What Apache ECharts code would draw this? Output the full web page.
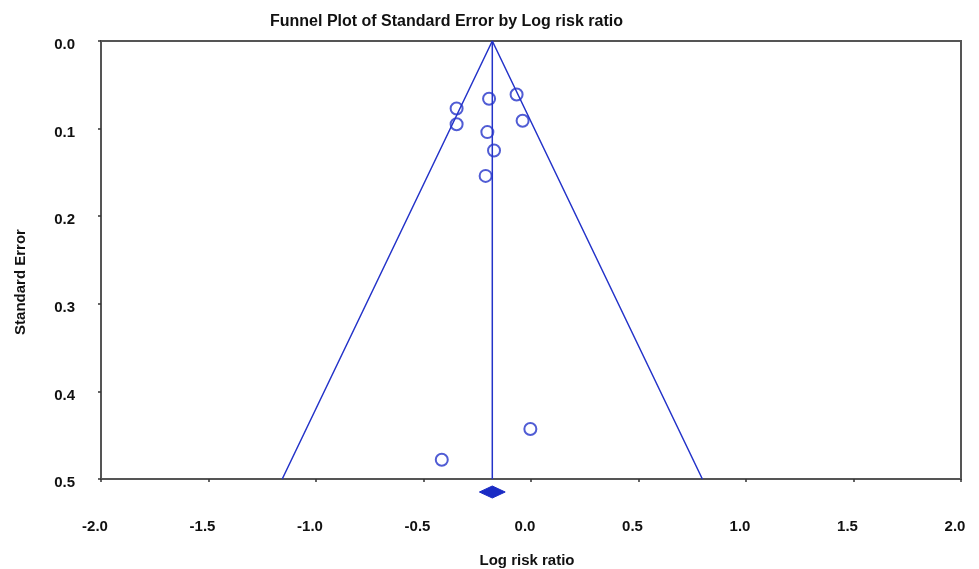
<!DOCTYPE html>
<html><head><meta charset="utf-8">
<script src="https://cdn.jsdelivr.net/npm/echarts@6/dist/echarts.min.js"></script>
<style>html,body{margin:0;padding:0;background:#fff}#c{width:979px;height:569px}</style>
</head><body><div id="c"></div>
<script>
// Study estimates: log risk ratio (x) and standard error (y)
const studyLogRR = [-0.346, -0.346, -0.195, -0.067, -0.039, -0.203, -0.172, -0.211, -0.003, -0.415];
const studySE    = [0.077, 0.095, 0.066, 0.061, 0.091, 0.104, 0.125, 0.154, 0.443, 0.478];
// Pooled estimate and its confidence interval
const pooledMean = -0.18;
const pooledCI = [-0.24, -0.12];
// Funnel (pseudo 95% limits)
const funnelX = [-1.157, -0.18, 0.797];
const funnelY = [0.5, 0.0, 0.5];
// Axis ticks
const xTicks = [-2.0, -1.5, -1.0, -0.5, 0.0, 0.5, 1.0, 1.5, 2.0];
const yTicks = [0.0, 0.1, 0.2, 0.3, 0.4, 0.5];

const blue = '#2433c9';
const font = 'Liberation Sans, Arial, sans-serif';
const chart = echarts.init(document.getElementById('c'), null, {renderer: 'canvas'});
chart.setOption({
  animation: false,
  backgroundColor: '#fff',
  title: {
    text: 'Funnel Plot of Standard Error by Log risk ratio',
    left: 265, top: 9,
    textStyle: {fontFamily: font, fontWeight: 'bold', fontSize: 16, color: '#111'}
  },
  grid: {left: 101, right: 18, top: 41, bottom: 90, show: true, borderColor: '#555', borderWidth: 2,
    backgroundColor: 'transparent', containLabel: false, outerBoundsMode: 'none'},
  xAxis: {
    type: 'value', min: xTicks[0], max: xTicks[xTicks.length - 1], interval: 0.5,
    name: 'Log risk ratio', nameLocation: 'middle', nameGap: 74,
    nameTextStyle: {fontFamily: font, fontWeight: 'bold', fontSize: 15, color: '#111', padding: [0, 8, 0, 0]},
    axisLine: {onZero: false, lineStyle: {color: '#555', width: 2}},
    axisTick: {show: true, length: 3, lineStyle: {color: '#333', width: 1.5}},
    splitLine: {show: false},
    axisLabel: {margin: 40, fontFamily: font, fontWeight: 'bold', fontSize: 15, color: '#111',
      padding: [0, 12, 0, 0], formatter: v => v.toFixed(1)}
  },
  yAxis: {
    type: 'value', inverse: true, min: yTicks[0], max: yTicks[yTicks.length - 1], interval: 0.1,
    name: 'Standard Error', nameLocation: 'middle', nameGap: 73,
    nameTextStyle: {fontFamily: font, fontWeight: 'bold', fontSize: 15, color: '#111', padding: [0, 44, 0, 0]},
    axisLine: {onZero: false, lineStyle: {color: '#555', width: 2}},
    axisTick: {show: true, length: 3, lineStyle: {color: '#333', width: 1.5}},
    splitLine: {show: false},
    axisLabel: {margin: 26, fontFamily: font, fontWeight: 'bold', fontSize: 15, color: '#111',
      verticalAlign: 'top', lineHeight: 8, formatter: v => v.toFixed(1)}
  },
  series: [
    {
      type: 'line', data: funnelX.map((x, i) => [x, funnelY[i]]), symbol: 'none',
      lineStyle: {color: blue, width: 1.5}, z: 2
    },
    {
      type: 'line', data: [[pooledMean, funnelY[1]], [pooledMean, funnelY[0]]], symbol: 'none',
      lineStyle: {color: blue, width: 1.5}, z: 2
    },
    {
      type: 'scatter', data: studyLogRR.map((x, i) => [x, studySE[i]]),
      symbol: 'circle', symbolSize: 12,
      itemStyle: {color: 'rgba(255,255,255,0)', borderColor: blue, borderWidth: 2}, z: 3
    },
    {
      type: 'custom', clip: false, z: 4,
      data: [[pooledCI[0], pooledMean, pooledCI[1]]],
      renderItem: function (params, api) {
        const yMax = yTicks[yTicks.length - 1];
        const l = api.coord([api.value(0), yMax]);
        const m = api.coord([api.value(1), yMax]);
        const r = api.coord([api.value(2), yMax]);
        const cy = m[1] + 13, h = 6;
        return {
          type: 'polygon',
          shape: {points: [[l[0], cy], [m[0], cy - h], [r[0], cy], [m[0], cy + h]]},
          style: {fill: '#1a2bc4', stroke: '#1a2bc4', lineWidth: 1}
        };
      }
    }
  ]
});
</script>
</body></html>
